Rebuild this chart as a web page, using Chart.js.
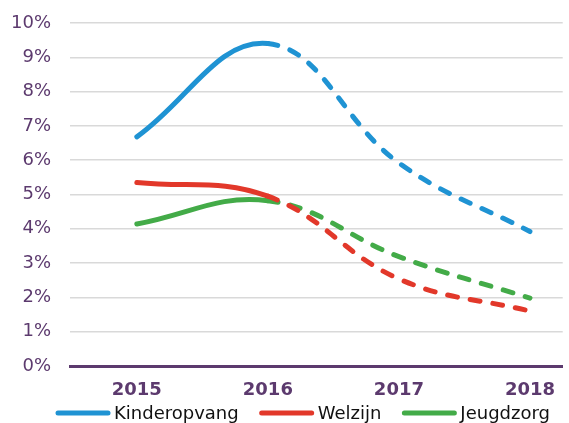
<!DOCTYPE html>
<html>
<head>
<meta charset="utf-8">
<script src="https://cdn.jsdelivr.net/npm/chart.js@4"></script>
<style>
  html, body { margin: 0; padding: 0; background: #fff; overflow: hidden; }
</style>
</head>
<body>
<canvas id="chart_sectors" width="569" height="423"></canvas>
<script>
var years = [2015, 2016, 2017, 2018]
var names = ['Kinderopvang', 'Welzijn', 'Jeugdzorg']
var kinderopvang = [6.68, 9.4, 5.92, 3.92]
var welzijn = [5.35, 4.95, 2.54, 1.6]
var jeugdzorg = [4.14, 4.82, 3.19, 1.98]
var yTicks = [0, 1, 2, 3, 4, 5, 6, 7, 8, 9, 10]
var cores = ['#1f93d3', '#e2382a', '#43ab48']
var purple = '#5c3a6e'

var series = [kinderopvang, welzijn, jeugdzorg]

function toPoints(values) {
    return values.map(function(v, i) { return { x: years[i], y: v } })
}

// simple legend under the axis: coloured line + name
var bottomLegend = {
    id: 'bottomLegend',
    afterDraw: function(chart, args, opts) {
        var c = chart.ctx
        var x = opts.x
        c.save()
        c.font = opts.size + 'px ' + opts.family
        c.textBaseline = 'middle'
        chart.data.datasets.forEach(function(ds) {
            c.strokeStyle = ds.borderColor
            c.lineWidth = 5
            c.lineCap = 'round'
            c.beginPath()
            c.moveTo(x, opts.y)
            c.lineTo(x + opts.lineLength, opts.y)
            c.stroke()
            c.fillStyle = opts.color
            c.fillText(ds.label, x + opts.lineLength + opts.gap, opts.y + 1)
            x += opts.lineLength + opts.gap + c.measureText(ds.label).width + opts.spacing
        })
        c.restore()
    }
}

var ctx = document.getElementById('chart_sectors');
var chartLine = new Chart(ctx, {
    type: 'line',
    plugins: [bottomLegend],
    data: {
        datasets: series.map(function(values, index) {
            return {
                label: names[index],
                data: toPoints(values),
                borderColor: cores[index],
                backgroundColor: cores[index],
                borderWidth: 5,
                borderCapStyle: 'round',
                pointRadius: 0,
                fill: false,
                tension: 0.4,
                segment: {
                    // forecast part (after 2016) is dashed
                    borderDash: function(c) { return c.p0.parsed.x >= 2016 ? [10, 13] : undefined }
                }
            }
        })
    },
    options: {
        responsive: false,
        animation: false,
        layout: { padding: { left: 10, top: 0, right: 0, bottom: 22 } },
        plugins: {
            tooltip: { enabled: false },
            legend: { display: false },
            bottomLegend: {
                x: 58, y: 413, lineLength: 50, gap: 6, spacing: 23,
                color: '#111', family: 'DejaVu Sans', size: 18
            }
        },
        scales: {
            x: {
                type: 'linear',
                min: 2014.49,
                max: 2018.25,
                afterBuildTicks: function(axis) {
                    axis.ticks = years.map(function(y) { return { value: y } })
                },
                afterFit: function(axis) { axis.height = 35 },
                grid: { display: false, drawTicks: false },
                border: { display: true, color: purple, width: 3 },
                ticks: {
                    padding: 14,
                    color: purple,
                    font: { family: 'DejaVu Sans', size: 18, weight: 'bold' },
                    callback: function(value) { return String(value) }
                }
            },
            y: {
                min: 0,
                max: 10,
                afterBuildTicks: function(axis) {
                    axis.ticks = yTicks.map(function(v) { return { value: v } })
                },
                afterFit: function(axis) {
                    axis.width = 60
                    axis.paddingTop = 23
                },
                grid: { color: '#d9d9d9', lineWidth: 1.5, drawTicks: false },
                border: { display: false },
                ticks: {
                    padding: 19,
                    color: purple,
                    font: { family: 'DejaVu Sans', size: 18 },
                    callback: function(value) { return value + '%' }
                }
            }
        }
    }
});
</script>
</body>
</html>
